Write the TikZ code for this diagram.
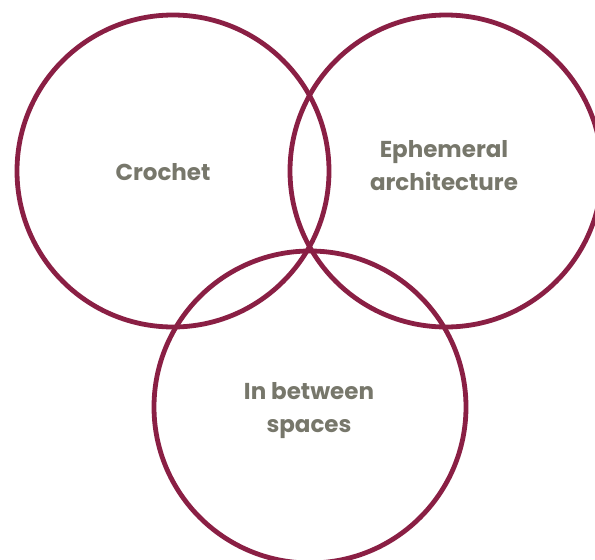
\documentclass[tikz,border=0pt]{standalone}
\usepackage{fontspec}
\setmainfont{Poppins}
\definecolor{ring}{HTML}{8A1F44}
\definecolor{txt}{HTML}{77776B}
\begin{document}
\begin{tikzpicture}[x=1pt,y=-1pt,
  ring/.style={draw=ring,line width=4.8pt},
  lbl/.style={text=txt,font=\fontsize{23}{33}\selectfont\bfseries,align=center,inner sep=0pt}]
\clip (0,0) rectangle (595,560);
\useasboundingbox (0,0) rectangle (595,560);
\draw[ring] (173,171) circle[radius=156];
\draw[ring] (446,171) circle[radius=156];
\draw[ring] (310,407) circle[radius=156];
\node[lbl] (c) at (163,172) {Crochet};
\node[lbl] (e) at (444,166) {Ephemeral\\architecture};
\node[lbl] (i) at (309,411) {In between\\spaces};
\end{tikzpicture}
\end{document}
